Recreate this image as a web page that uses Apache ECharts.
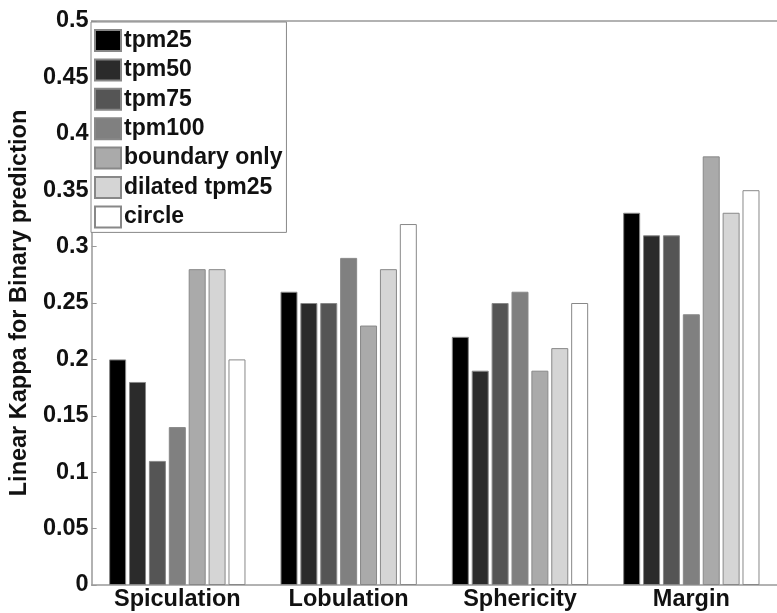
<!DOCTYPE html>
<html>
<head>
<meta charset="utf-8">
<script src="https://cdn.jsdelivr.net/npm/echarts@6/dist/echarts.min.js"></script>
<style>html,body{margin:0;padding:0;background:#fff}#c{width:777px;height:613px}</style>
</head>
<body>
<div id="c"></div>
<script>
const categories = ['Spiculation', 'Lobulation', 'Sphericity', 'Margin'];
const seriesNames = ['tpm25', 'tpm50', 'tpm75', 'tpm100', 'boundary only', 'dilated tpm25', 'circle'];
const tpm25 = [0.20, 0.26, 0.22, 0.33];
const tpm50 = [0.18, 0.25, 0.19, 0.31];
const tpm75 = [0.11, 0.25, 0.25, 0.31];
const tpm100 = [0.14, 0.29, 0.26, 0.24];
const boundaryOnly = [0.28, 0.23, 0.19, 0.38];
const dilatedTpm25 = [0.28, 0.28, 0.21, 0.33];
const circle = [0.20, 0.32, 0.25, 0.35];
const yTicks = [0, 0.05, 0.1, 0.15, 0.2, 0.25, 0.3, 0.35, 0.4, 0.45, 0.5];

const values = [tpm25, tpm50, tpm75, tpm100, boundaryOnly, dilatedTpm25, circle];
const colors = ['#000000', '#2b2b2b', '#555555', '#808080', '#aaaaaa', '#d5d5d5', '#ffffff'];
const font = 'Liberation Sans, Arial, sans-serif';
const fs = 23.5;

const chart = echarts.init(document.getElementById('c'), null, {renderer: 'canvas'});
chart.setOption({
  animation: false,
  backgroundColor: '#ffffff',
  grid: {left: 90, top: 21, width: 700, height: 564, containLabel: false},
  legend: {
    orient: 'vertical', left: 91, top: 22,
    itemWidth: 26, itemHeight: 21, itemGap: 6.4,
    padding: [7, 4, 4, 3],
    backgroundColor: '#ffffff', borderColor: '#888888', borderWidth: 1,
    textStyle: {fontFamily: font, fontWeight: 'bold', fontSize: 23, lineHeight: 21, color: '#111', padding: [0, 0, 0, -2]},
    data: seriesNames.map(n => ({name: n, icon: 'rect'}))
  },
  xAxis: [{
    type: 'category', data: categories, position: 'bottom',
    axisLine: {lineStyle: {color: '#999999', width: 1.5}},
    axisTick: {inside: true, alignWithLabel: true, length: 5, lineStyle: {color: '#999'}},
    axisLabel: {fontFamily: font, fontWeight: 'bold', fontSize: fs, color: '#111', margin: 3}
  }, {
    type: 'category', data: categories, position: 'top',
    axisLine: {show: true, lineStyle: {color: '#999999', width: 1.5}},
    axisTick: {inside: true, alignWithLabel: true, length: 5, lineStyle: {color: '#999'}},
    axisLabel: {show: false}
  }],
  yAxis: {
    type: 'value', min: 0, max: 0.5, interval: 0.05,
    name: 'Linear Kappa for Binary prediction', nameLocation: 'middle', nameGap: 50,
    nameTextStyle: {fontFamily: font, fontWeight: 'bold', fontSize: fs, color: '#111'},
    axisLine: {show: true, lineStyle: {color: '#999999', width: 1.5}},
    axisTick: {show: true, inside: true, length: 5, lineStyle: {color: '#999'}},
    splitLine: {show: false},
    axisLabel: {fontFamily: font, fontWeight: 'bold', fontSize: fs, color: '#111', margin: 3,
      formatter: v => { const t = yTicks.find(x => Math.abs(x - v) < 1e-9); return String(t !== undefined ? t : v); }}
  },
  series: seriesNames.map((n, i) => ({
    name: n, type: 'bar', data: values[i],
    barWidth: 17, barGap: '17%',
    itemStyle: {color: colors[i], borderColor: '#888888', borderWidth: 1}
  }))
});
</script>
</body>
</html>
